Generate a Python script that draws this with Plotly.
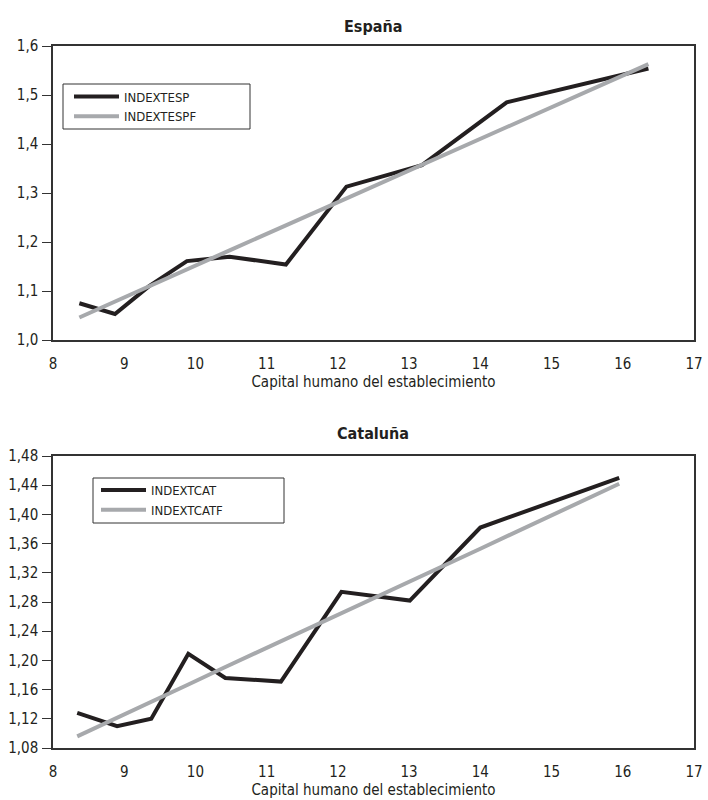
import plotly.graph_objects as go

# España
esp_x = [8.37, 8.87, 9.35, 9.88, 10.48, 11.27, 12.12, 13.18, 14.37, 16.36]
esp_obs = [1.075, 1.053, 1.110, 1.161, 1.170, 1.154, 1.313, 1.357, 1.485, 1.554]
esp_fit = [1.046, 1.078, 1.109, 1.144, 1.183, 1.234, 1.289, 1.358, 1.435, 1.563]

# Cataluña
cat_x = [8.34, 8.90, 9.38, 9.90, 10.42, 11.20, 12.05, 13.01, 14.00, 15.95]
cat_obs = [1.128, 1.110, 1.120, 1.209, 1.176, 1.171, 1.294, 1.282, 1.382, 1.450]
cat_fit = [1.096, 1.121, 1.143, 1.167, 1.191, 1.226, 1.265, 1.308, 1.353, 1.442]

x_ticks = [8, 9, 10, 11, 12, 13, 14, 15, 16, 17]
esp_yticks = [1.0, 1.1, 1.2, 1.3, 1.4, 1.5, 1.6]
cat_yticks = [1.08, 1.12, 1.16, 1.20, 1.24, 1.28, 1.32, 1.36, 1.40, 1.44, 1.48]

BLACK = "#231f20"
GRAY = "#a7a9ac"
FONT = "DejaVu Sans Condensed, Liberation Sans Narrow, sans-serif"

# body margin is removed after drawing, so the figure fills the window
W, H = 708, 800
def px(v): return v / W
def py(v): return 1 - v / H

fig = go.Figure()
fig.add_trace(go.Scatter(x=esp_x, y=esp_obs, mode="lines", name="INDEXTESP",
                         line=dict(color=BLACK, width=4), xaxis="x", yaxis="y", legend="legend"))
fig.add_trace(go.Scatter(x=esp_x, y=esp_fit, mode="lines", name="INDEXTESPF",
                         line=dict(color=GRAY, width=4), xaxis="x", yaxis="y", legend="legend"))
fig.add_trace(go.Scatter(x=cat_x, y=cat_obs, mode="lines", name="INDEXTCAT",
                         line=dict(color=BLACK, width=4), xaxis="x2", yaxis="y2", legend="legend2"))
fig.add_trace(go.Scatter(x=cat_x, y=cat_fit, mode="lines", name="INDEXTCATF",
                         line=dict(color=GRAY, width=4), xaxis="x2", yaxis="y2", legend="legend2"))

axis_common = dict(showline=True, linecolor="#333333", linewidth=1.5, mirror=True,
                   showgrid=False, zeroline=False, automargin=False,
                   tickfont=dict(family=FONT, size=15, color="#231f20"))
xcommon = dict(axis_common, range=[8, 17], tickvals=x_ticks, ticks="",
               ticklabelstandoff=9,
               title=dict(text="Capital humano del establecimiento",
                          font=dict(family=FONT, size=15, color="#231f20"), standoff=5))
ycommon = dict(axis_common, ticks="outside", ticklen=9, tickwidth=1.2,
               tickcolor="#333333", ticklabelstandoff=1)

legend_style = dict(xanchor="left", yanchor="middle", borderwidth=0,
                    bgcolor="rgba(0,0,0,0)",
                    font=dict(family=FONT, size=13, color="#231f20"),
                    tracegroupgap=0, itemwidth=45)

fig.update_layout(
    width=W, height=H,
    margin=dict(l=0, r=0, t=0, b=0),
    paper_bgcolor="white", plot_bgcolor="white",
    separators=",.",
    xaxis=dict(xcommon, domain=[px(53), px(694)], anchor="y"),
    yaxis=dict(ycommon, domain=[py(340), py(46)], anchor="x", range=[1.0, 1.6],
               tickvals=esp_yticks, tickformat=".1f"),
    xaxis2=dict(xcommon, domain=[px(53), px(694)], anchor="y2"),
    yaxis2=dict(ycommon, domain=[py(748), py(456)], anchor="x2", range=[1.08, 1.48],
                tickvals=cat_yticks, tickformat=".2f"),
    showlegend=True,
    legend=dict(legend_style, x=px(69), y=py(106.5)),
    legend2=dict(legend_style, x=px(96), y=py(500)),
    shapes=[
        dict(type="rect", xref="paper", yref="paper",
             x0=px(63), x1=px(250), y0=py(129), y1=py(84),
             line=dict(color="#333333", width=1), fillcolor="white", layer="above"),
        dict(type="rect", xref="paper", yref="paper",
             x0=px(93), x1=px(284), y0=py(523), y1=py(478),
             line=dict(color="#333333", width=1), fillcolor="white", layer="above"),
    ],
    annotations=[
        dict(text="<b>España</b>", x=px(373), y=py(27), xref="paper", yref="paper",
             xanchor="center", yanchor="middle",
             showarrow=False, font=dict(family=FONT, size=16, color="#231f20")),
        dict(text="<b>Cataluña</b>", x=px(373), y=py(433), xref="paper", yref="paper",
             xanchor="center", yanchor="middle",
             showarrow=False, font=dict(family=FONT, size=16, color="#231f20")),
    ],
)

fig.write_html("out.html",
               config={"displayModeBar": False},
               post_script="document.body.style.margin='0';document.body.style.overflow='hidden';")
